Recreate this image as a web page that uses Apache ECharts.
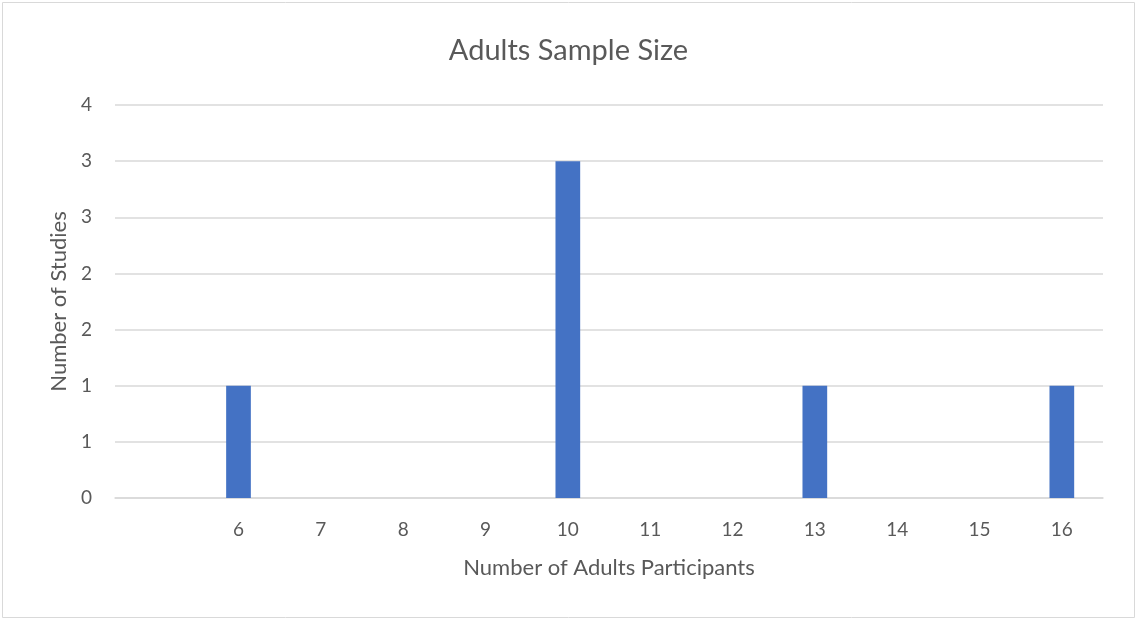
<!DOCTYPE html>
<html>
<head>
<meta charset="utf-8">
<script src="https://cdn.jsdelivr.net/npm/echarts@6/dist/echarts.min.js"></script>
<style>
html,body{margin:0;padding:0;background:#fff;}
#chart{width:1137px;height:620px;}
</style>
</head>
<body>
<div id="chart"></div>
<script>
const categories = ["", "6", "7", "8", "9", "10", "11", "12", "13", "14", "15", "16"];
const studies = [null, 1, null, null, null, 3, null, null, 1, null, null, 1];
const titleText = "Adults Sample Size";
const xName = "Number of Adults Participants";
const yName = "Number of Studies";

const FONT = "Lato, 'Liberation Sans', sans-serif";
const TXT = "#595959";
const chart = echarts.init(document.getElementById('chart'));
chart.setOption({
  animation: false,
  textStyle: {fontFamily: FONT},
  title: {
    text: titleText, left: 'center', top: 31,
    textStyle: {fontFamily: FONT, fontSize: 29, fontWeight: 'normal', color: TXT}
  },
  graphic: [{
    type: 'rect', shape: {x: 2.5, y: 2.5, width: 1132, height: 615},
    style: {fill: 'none', stroke: '#d9d9d9', lineWidth: 1}, silent: true
  }],
  grid: {left: 115, right: 34, top: 105, bottom: 122},
  xAxis: {
    type: 'category', data: categories,
    name: xName, nameLocation: 'middle', nameGap: 59,
    nameTextStyle: {fontFamily: FONT, fontSize: 22, color: TXT},
    axisLine: {lineStyle: {color: '#d9d9d9', width: 1.5}},
    axisTick: {show: false},
    axisLabel: {fontFamily: FONT, fontSize: 19, color: TXT, margin: 22}
  },
  yAxis: {
    type: 'value', min: 0, max: 3.5, interval: 0.5,
    name: yName, nameLocation: 'middle', nameGap: 44,
    nameTextStyle: {fontFamily: FONT, fontSize: 22, color: TXT},
    axisLine: {show: false}, axisTick: {show: false},
    axisLabel: {fontFamily: FONT, fontSize: 19, color: TXT, margin: 23,
      formatter: v => String(Math.round(v))},
    splitLine: {lineStyle: {color: '#d9d9d9', width: 1.5}}
  },
  series: [{
    type: 'bar', data: studies, barWidth: '30%',
    itemStyle: {color: '#4472C4'}
  }]
});
</script>
</body>
</html>
